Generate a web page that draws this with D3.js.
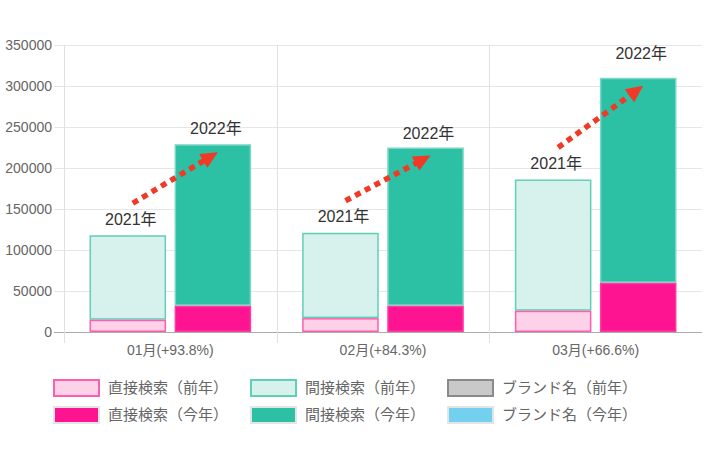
<!DOCTYPE html>
<html><head><meta charset="utf-8">
<script src="https://cdn.jsdelivr.net/npm/d3@7"></script>
<style>body{margin:0;background:#fff}svg{display:block}</style>
</head><body><div id="chart"></div>
<script>
const categories = ["01月(+93.8%)", "02月(+84.3%)", "03月(+66.6%)"];
const directPrev = [15000, 17000, 26000];
const indirectPrev = [103000, 104000, 160000];
const brandPrev = [0, 0, 0];
const directCur = [32000, 32000, 60000];
const indirectCur = [197000, 193000, 250000];
const brandCur = [0, 0, 0];
const yTicks = [0, 50000, 100000, 150000, 200000, 250000, 300000, 350000];
const yearLabels = ["2021年", "2022年"];
const legendLabels = ["直接検索（前年）", "直接検索（今年）", "間接検索（前年）", "間接検索（今年）", "ブランド名（前年）", "ブランド名（今年）"];

const W = 710, H = 460;
const font = "'Liberation Sans', 'Noto Sans CJK JP', sans-serif";
const svg = d3.select("#chart").append("svg").attr("width", W).attr("height", H);

const x = d3.scaleBand().domain(categories).range([64, 702]).padding(0);
const y = d3.scaleLinear().domain([0, 350000]).range([332, 45]);
const sub = d3.scaleBand().domain([0, 1]).range([x.bandwidth() * 0.1, x.bandwidth() * 0.9]).paddingInner(0.1).paddingOuter(0.05);

// grid
const g = svg.append("g");
g.selectAll("line.h").data(yTicks).join("line")
  .attr("x1", 54).attr("x2", 702)
  .attr("y1", d => Math.round(y(d)) + 0.5).attr("y2", d => Math.round(y(d)) + 0.5)
  .attr("stroke", d => d === 0 ? "#aaa" : "#e6e6e6").attr("stroke-width", 1);
const vlines = categories.map(c => x(c));
g.selectAll("line.v").data(vlines).join("line")
  .attr("x1", d => Math.round(d) + 0.5).attr("x2", d => Math.round(d) + 0.5)
  .attr("y1", 45).attr("y2", 343)
  .attr("stroke", "#e0e0e0");

// y axis labels
const yAxis = d3.axisLeft(y).tickValues(yTicks).tickSize(0).tickPadding(0).tickFormat(d3.format("d"));
const ya = svg.append("g").attr("transform", "translate(52,0)").call(yAxis);
ya.select(".domain").remove();
ya.selectAll("text").attr("font-family", font).attr("font-size", 14).attr("fill", "#666").attr("dy", "0.35em");

// x axis labels
const xAxis = d3.axisBottom(x).tickSize(0).tickPadding(0);
const xa = svg.append("g").attr("transform", "translate(0,345)").call(xAxis);
xa.select(".domain").remove();
xa.selectAll("text").attr("font-family", font).attr("font-size", 14).attr("fill", "#666").attr("dy", "0.71em");

// series
const series = [
  {vals: directPrev, base: null, grp: 0, fill: "#fdd1e7", stroke: "#fc5fae"},
  {vals: indirectPrev, base: directPrev, grp: 0, fill: "#d7f1ec", stroke: "#5fcfb8"},
  {vals: brandPrev, base: [directPrev, indirectPrev], grp: 0, fill: "#c9c9c9", stroke: "#999"},
  {vals: directCur, base: null, grp: 1, fill: "#fe1491", stroke: "#fe3aa3"},
  {vals: indirectCur, base: directCur, grp: 1, fill: "#2cc0a5", stroke: "#7ad6c4"},
  {vals: brandCur, base: [directCur, indirectCur], grp: 1, fill: "#73d0ef", stroke: "#73d0ef"}
];
const bars = svg.append("g");
[1, 2, 0, 4, 5, 3].forEach(si => {
  const s = series[si];
  const data = categories.map((c, i) => {
    let b = 0;
    if (s.base) b = Array.isArray(s.base[0]) ? s.base.reduce((a, arr) => a + arr[i], 0) : s.base[i];
    return {c, y0: b, y1: b + s.vals[i]};
  }).filter(d => d.y1 > d.y0);
  bars.selectAll(null).data(data).join("rect")
    .attr("x", d => x(d.c) + sub(s.grp) + 0.75)
    .attr("width", sub.bandwidth() - 1.5)
    .attr("y", d => y(d.y1) + 0.75)
    .attr("height", d => y(d.y0) - y(d.y1) - 1.5)
    .attr("fill", s.fill).attr("stroke", s.stroke).attr("stroke-width", 1.5);
});

// totals
const totPrev = categories.map((c, i) => directPrev[i] + indirectPrev[i] + brandPrev[i]);
const totCur = categories.map((c, i) => directCur[i] + indirectCur[i] + brandCur[i]);
const labelLift = [[10, 10], [11, 9], [10, 19]];

// year labels
const lab = svg.append("g").attr("font-family", font).attr("font-size", 16).attr("fill", "#333").attr("text-anchor", "middle");
categories.forEach((c, i) => {
  [totPrev[i], totCur[i]].forEach((t, k) => {
    lab.append("text")
      .attr("x", x(c) + sub(k) + sub.bandwidth() / 2 + 3)
      .attr("y", y(t) - labelLift[i][k])
      .text(yearLabels[k]);
  });
});

// arrows
const red = "#f03a26";
const arr = svg.append("g");
categories.forEach((c, i) => {
  const x0 = x(c) + sub(0) + sub.bandwidth() / 2 + 5, y0 = y(totPrev[i]) - 32;
  const x1 = x(c) + sub(1) + sub.bandwidth() / 2 + 5, y1 = y(totCur[i]) + 8;
  const dx = x1 - x0, dy = y1 - y0, L = Math.hypot(dx, dy), ux = dx / L, uy = dy / L;
  const hl = 17, hw = 8;
  const bx = x1 - ux * hl, by = y1 - uy * hl;
  arr.append("line").attr("x1", x0).attr("y1", y0).attr("x2", bx + ux * 2).attr("y2", by + uy * 2)
    .attr("stroke", red).attr("stroke-width", 5.5).attr("stroke-dasharray", "6,5");
  arr.append("path")
    .attr("d", `M${x1},${y1}L${bx - uy * hw},${by + ux * hw}L${bx + uy * hw},${by - ux * hw}Z`)
    .attr("fill", red);
});

// legend
const legendFills = [series[0], series[3], series[1], series[4], series[2], series[5]];
const lg = svg.append("g");
legendLabels.forEach((t, i) => {
  const col = Math.floor(i / 2), row = i % 2;
  const lx = 53 + col * 197, ly = 379 + row * 27;
  const s = legendFills[i];
  const cur = row === 1;
  lg.append("rect").attr("x", lx + 1).attr("y", ly + 1).attr("width", 45).attr("height", 16)
    .attr("fill", s.fill).attr("stroke", cur ? "#e4e4e4" : (i === 4 ? "#8a8a8a" : s.stroke)).attr("stroke-width", 2);
  lg.append("text").attr("x", lx + 55).attr("y", ly + 9).attr("dy", "0.35em")
    .attr("font-family", font).attr("font-size", 15).attr("fill", "#666").text(t);
});
</script></body></html>
